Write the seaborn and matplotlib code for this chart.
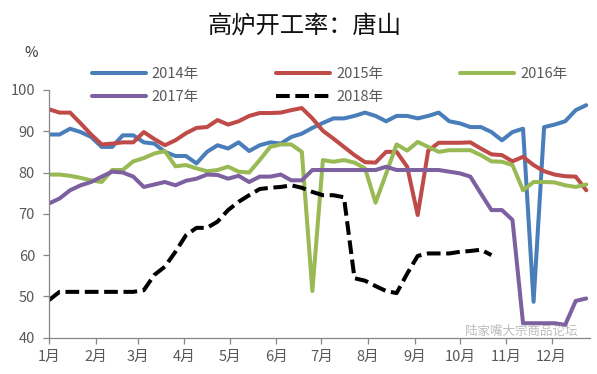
import matplotlib
matplotlib.use("Agg")
import matplotlib.pyplot as plt
import seaborn as sns
import pandas as pd

# weekly readings, day-of-year of each sample
days = [7 * i for i in range(52)]

y2014 = [89.2, 89.2, 90.6, 89.8, 88.6, 86.2, 86.2, 89.0, 89.0, 87.3, 87.0, 85.0, 84.0,
         84.0, 82.2, 85.0, 86.6, 85.8, 87.3, 85.2, 86.6, 87.3, 87.0, 88.6, 89.4, 90.8,
         92.0, 93.1, 93.1, 93.7, 94.5, 93.7, 92.4, 93.7, 93.7, 93.1, 93.7, 94.5, 92.4,
         91.9, 91.0, 91.0, 89.8, 87.8, 89.8, 90.6, 48.7, 91.0, 91.6, 92.4, 95.1, 96.3]
y2015 = [95.3, 94.5, 94.5, 91.9, 89.2, 86.8, 87.0, 87.3, 87.3, 89.8, 88.1, 86.6, 87.8,
         89.5, 90.8, 91.0, 92.7, 91.6, 92.4, 93.7, 94.4, 94.4, 94.5, 95.1, 95.6, 93.1,
         90.1, 88.2, 86.2, 84.2, 82.5, 82.4, 85.0, 85.0, 81.4, 69.7, 85.3, 87.2, 87.2,
         87.2, 87.3, 85.8, 84.4, 84.2, 82.7, 83.8, 81.8, 80.3, 79.5, 79.1, 79.0, 75.7]
y2016 = [79.5, 79.5, 79.2, 78.7, 78.1, 77.7, 80.6, 80.6, 82.7, 83.5, 84.6, 85.2, 81.5,
         81.8, 81.0, 80.3, 80.6, 81.4, 80.2, 80.0, 83.0, 86.2, 86.8, 86.8, 85.0, 51.3,
         83.0, 82.6, 83.0, 82.4, 81.0, 72.7, 79.7, 86.8, 85.3, 87.4, 86.2, 85.0, 85.4,
         85.4, 85.4, 84.2, 82.7, 82.6, 81.8, 75.7, 77.7, 77.7, 77.6, 76.9, 76.5, 77.1]
y2017 = [72.5, 73.7, 75.7, 76.9, 77.7, 79.0, 80.2, 80.0, 79.0, 76.5, 77.1, 77.7, 76.9,
         78.0, 78.5, 79.5, 79.4, 78.5, 79.2, 77.7, 79.0, 79.0, 79.5, 78.1, 78.1, 80.6,
         80.6, 80.6, 80.6, 80.6, 80.6, 80.6, 81.4, 80.6, 80.6, 80.6, 80.6, 80.6, 80.2,
         79.8, 79.0, 74.9, 70.9, 70.9, 68.5, 43.5, 43.5, 43.5, 43.5, 43.1, 48.9, 49.5]
y2018 = [49.1, 51.1, 51.1, 51.1, 51.1, 51.1, 51.1, 51.1, 51.1, 51.5, 55.2, 57.2, 60.8,
         64.8, 66.6, 66.6, 68.1, 70.9, 72.9, 74.5, 76.0, 76.3, 76.5, 76.9, 76.3, 75.3,
         74.5, 74.5, 74.0, 54.4, 53.8, 52.5, 51.3, 50.8, 55.5, 59.8, 60.4, 60.4, 60.4,
         60.8, 61.0, 61.3, 60.0]

years = ["2014年", "2015年", "2016年", "2017年", "2018年"]
series = [y2014, y2015, y2016, y2017, y2018]
colors = ["#4A7EBB", "#BE4B48", "#98B954", "#7D60A0", "#000000"]

month_days = [0, 31, 59, 90, 120, 151, 181, 212, 243, 273, 304, 334]
month_labels = [f"{m}月" for m in range(1, 13)]

sns.set_style("white")
plt.rcParams['font.family'] = ['Noto Sans CJK SC', 'DejaVu Sans']

fig = plt.figure(figsize=(5.97, 3.74), dpi=100)
ax = fig.add_axes([49 / 597, 1 - 337.7 / 374, 541 / 597, (337.7 - 89.9) / 374])

handles = {}
for name, vals, c in zip(years, series, colors):
    df = pd.DataFrame({"day": days[:len(vals)], "val": vals})
    sns.lineplot(data=df, x="day", y="val", ax=ax, color=c, lw=2.9, label=name)
    ln = ax.get_lines()[-1]
    if name == "2018年":
        ln.set_dashes((3.4, 1.4))
    handles[name] = ln

ax.set_xlim(0, 359.5)
ax.set_ylim(40, 100)
ax.set_yticks(range(40, 101, 10))
ax.set_xticks(month_days)
ax.set_xticklabels(month_labels)
ax.set_xlabel("")
ax.set_ylabel("")

for s in ["top", "right"]:
    ax.spines[s].set_visible(False)
for s in ["left", "bottom"]:
    ax.spines[s].set_color("#868686")
    ax.spines[s].set_linewidth(0.9)
ax.tick_params(axis="both", colors="#868686", labelcolor="#595959", labelsize=10.5,
               length=4, width=0.9, direction="out", bottom=True, left=True)
ax.tick_params(axis="x", pad=5)
ax.tick_params(axis="y", pad=6)

ax.get_legend().remove()
order = ["2014年", "2017年", "2015年", "2018年", "2016年"]
fig.legend([handles[k] for k in order], order, ncol=3, loc="upper left",
           bbox_to_anchor=(86 / 597, 1 - 61 / 374), frameon=False, fontsize=10.5,
           handlelength=3.7, handletextpad=0.4, columnspacing=5.3,
           labelspacing=0.65, labelcolor="#595959", borderaxespad=0)

fig.text(305 / 597, 1 - 27 / 374, "高炉开工率：唐山", ha="center", va="center",
         fontsize=17.5, color="#111111")
fig.text(31 / 597, 1 - 53 / 374, "%", ha="center", va="center", fontsize=10.5,
         color="#333333")
fig.text(578 / 597, 1 - 331 / 374, "陆家嘴大宗商品论坛", ha="right", va="center",
         fontsize=9, color="#a0a0a0", alpha=0.7)

fig.savefig("out.png", dpi=100)
